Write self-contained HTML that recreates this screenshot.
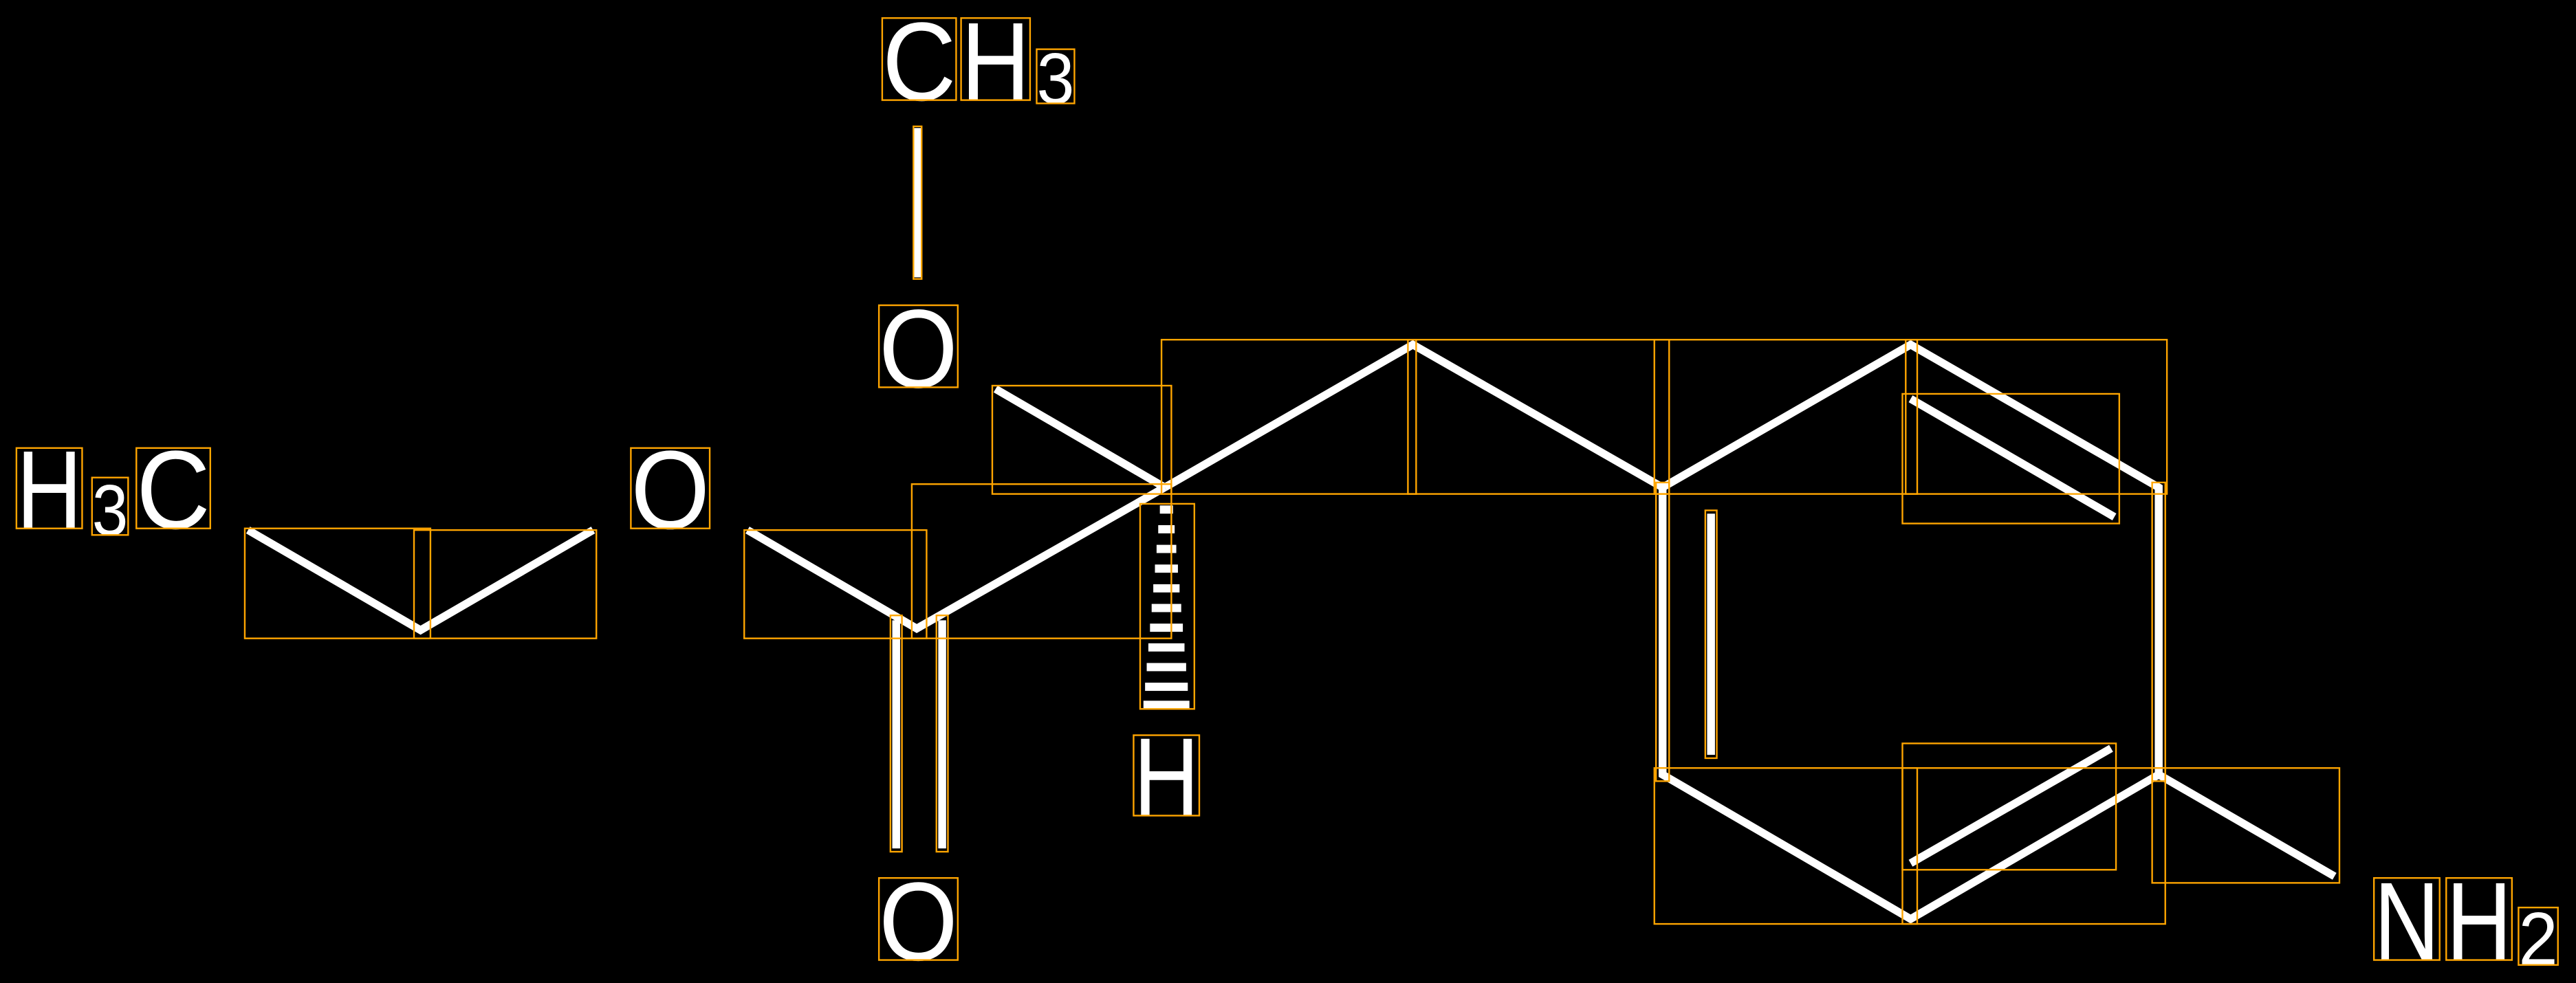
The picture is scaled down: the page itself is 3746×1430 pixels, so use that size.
<!DOCTYPE html>
<html><head><meta charset="utf-8"><style>html,body{margin:0;padding:0;background:#000}svg{display:block}</style></head>
<body>
<svg width="3746" height="1430" viewBox="0 0 1568 599" preserveAspectRatio="none" xmlns="http://www.w3.org/2000/svg">
<rect x="0" y="0" width="1568" height="599" fill="#000"/>
<g font-family="Liberation Sans, sans-serif" fill="#fff" font-size="68">
<text x="537" y="61" textLength="45" lengthAdjust="spacingAndGlyphs">C</text>
<text x="585" y="61" textLength="42" lengthAdjust="spacingAndGlyphs">H</text>
<text x="631" y="63" font-size="44" textLength="23" lengthAdjust="spacingAndGlyphs">3</text>
<text x="535" y="236" textLength="48" lengthAdjust="spacingAndGlyphs">O</text>
<text x="10" y="322" textLength="40" lengthAdjust="spacingAndGlyphs">H</text>
<text x="56" y="326" font-size="44" textLength="22" lengthAdjust="spacingAndGlyphs">3</text>
<text x="83" y="322" textLength="45" lengthAdjust="spacingAndGlyphs">C</text>
<text x="384" y="322" textLength="48" lengthAdjust="spacingAndGlyphs">O</text>
<text x="535" y="585" textLength="48" lengthAdjust="spacingAndGlyphs">O</text>
<text x="690" y="497" textLength="40" lengthAdjust="spacingAndGlyphs">H</text>
<text x="1445" y="585" textLength="40" lengthAdjust="spacingAndGlyphs">N</text>
<text x="1489" y="585" textLength="40" lengthAdjust="spacingAndGlyphs">H</text>
<text x="1533" y="588" font-size="46" textLength="24" lengthAdjust="spacingAndGlyphs">2</text>
</g>
<g stroke="#fff" stroke-width="4.8" fill="none" stroke-linecap="butt" stroke-linejoin="miter">
<line x1="558.5" y1="78" x2="558.5" y2="169"/>
<polyline points="151,323 256,384 361,323"/>
<polyline points="455,323 558,383 709,297"/>
<line x1="606" y1="237" x2="709" y2="297"/>
<line x1="545.5" y1="378" x2="545.5" y2="517"/>
<line x1="573.5" y1="378" x2="573.5" y2="517"/>
<polyline points="709,297 860,210 1012,297 1163,210 1314,297 1314,472 1163,560 1012,472 1012,297"/>
<line x1="1041.5" y1="313" x2="1041.5" y2="460"/>
<line x1="1163" y1="243" x2="1287" y2="315"/>
<line x1="1163" y1="526" x2="1285" y2="456"/>
<line x1="1314" y1="472" x2="1421" y2="534"/>
</g>
<g fill="#fff">
<rect x="706" y="308" width="8" height="5"/>
<rect x="705" y="320" width="10" height="5"/>
<rect x="704" y="332" width="12" height="5"/>
<rect x="703" y="344" width="14" height="5"/>
<rect x="702" y="356" width="16" height="5"/>
<rect x="701" y="368" width="18" height="5"/>
<rect x="700" y="380" width="20" height="5"/>
<rect x="699" y="392" width="22" height="5"/>
<rect x="698" y="404" width="24" height="5"/>
<rect x="697" y="416" width="26" height="5"/>
<rect x="696" y="427" width="28" height="5"/>
</g>
<g stroke="#FFA500" stroke-width="1" fill="none">
<rect x="537" y="11" width="45" height="50"/>
<rect x="585" y="11" width="42" height="50"/>
<rect x="631" y="30" width="23" height="33"/>
<rect x="556" y="77" width="5" height="93"/>
<rect x="535" y="186" width="48" height="50"/>
<rect x="10" y="273" width="40" height="49"/>
<rect x="56" y="291" width="22" height="35"/>
<rect x="83" y="273" width="45" height="49"/>
<rect x="384" y="273" width="48" height="49"/>
<rect x="149" y="322" width="113" height="67"/>
<rect x="252" y="323" width="111" height="66"/>
<rect x="453" y="323" width="111" height="66"/>
<rect x="555" y="295" width="158" height="94"/>
<rect x="604" y="235" width="109" height="66"/>
<rect x="542" y="375" width="7" height="144"/>
<rect x="570" y="375" width="7" height="144"/>
<rect x="535" y="535" width="48" height="50"/>
<rect x="694" y="307" width="33" height="125"/>
<rect x="690" y="448" width="40" height="49"/>
<rect x="707" y="207" width="155" height="94"/>
<rect x="857" y="207" width="159" height="94"/>
<rect x="1007" y="207" width="160" height="94"/>
<rect x="1160" y="207" width="159" height="94"/>
<rect x="1158" y="240" width="132" height="79"/>
<rect x="1008" y="294" width="8" height="182"/>
<rect x="1038" y="311" width="7" height="151"/>
<rect x="1310" y="294" width="8" height="182"/>
<rect x="1007" y="468" width="160" height="95"/>
<rect x="1158" y="468" width="160" height="95"/>
<rect x="1158" y="453" width="130" height="77"/>
<rect x="1310" y="468" width="114" height="70"/>
<rect x="1445" y="535" width="40" height="50"/>
<rect x="1489" y="535" width="40" height="50"/>
<rect x="1533" y="553" width="24" height="35"/>
</g>
</svg>
</body></html>
